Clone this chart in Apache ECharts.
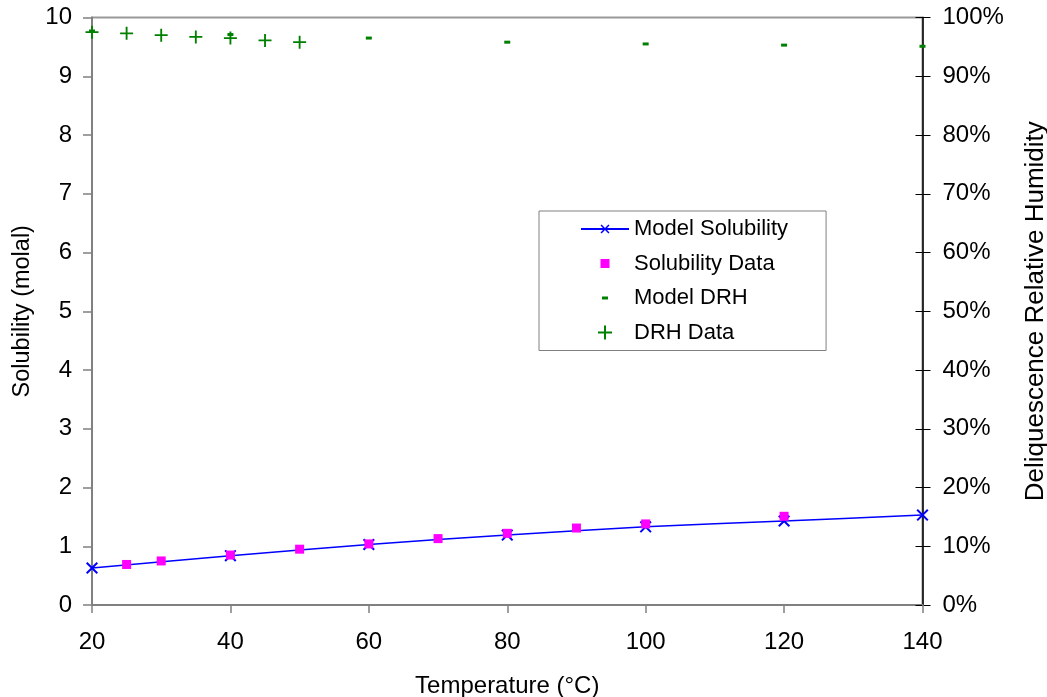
<!DOCTYPE html>
<html>
<head>
<meta charset="utf-8">
<script src="https://cdn.jsdelivr.net/npm/echarts@6/dist/echarts.min.js"></script>
<style>
html,body{margin:0;padding:0;background:#fff;}
#chart{width:1047px;height:697px;}
</style>
</head>
<body>
<div id="chart"></div>
<script>
// ---- data ----
var modelTemps = [20, 40, 60, 80, 100, 120, 140];
var modelSolubility = [0.63, 0.84, 1.03, 1.19, 1.33, 1.43, 1.53];

var dataTemps = [25, 30, 40, 50, 60, 70, 80, 90, 100, 120];
var solubilityData = [0.69, 0.75, 0.85, 0.95, 1.04, 1.13, 1.22, 1.31, 1.38, 1.51];

var modelDrhTemps = [20, 40, 60, 80, 100, 120, 140];
var modelDrh = [97.7, 97.1, 96.5, 95.8, 95.5, 95.3, 95.1];

var drhTemps = [20, 25, 30, 35, 40, 45, 50];
var drhData = [97.5, 97.3, 97.0, 96.7, 96.5, 96.1, 95.8];

var seriesNames = ['Model Solubility', 'Solubility Data', 'Model DRH', 'DRH Data'];

function pairs(xs, ys) { return xs.map(function (x, i) { return [x, ys[i]]; }); }

var FONT = '"Liberation Sans", Arial, sans-serif';
var PLUS = 'path://M6,0H8V6H14V8H8V14H6V8H0V6H6Z';
var XMARK = 'path://M5.2,0H6.8V5.2H12V6.8H6.8V12H5.2V6.8H0V5.2H5.2Z';

var chart = echarts.init(document.getElementById('chart'), null, {renderer: 'canvas'});
chart.setOption({
  animation: false,
  backgroundColor: '#ffffff',
  textStyle: {fontFamily: FONT},
  grid: {left: 92, right: 124.5, top: 17.5, bottom: 92, show: true, borderColor: '#999999', borderWidth: 2,
    backgroundColor: '#ffffff', containLabel: false, outerBoundsMode: 'none'},
  legend: {
    orient: 'vertical', left: 539, top: 211,
    padding: [7, 38, 7, 41], itemGap: 12.5, itemWidth: 48, itemHeight: 14,
    borderColor: '#808080', borderWidth: 1, backgroundColor: '#ffffff',
    textStyle: {fontFamily: FONT, fontSize: 22, lineHeight: 22, color: '#000'},
    data: [
      {name: seriesNames[0]},
      {name: seriesNames[1], icon: 'path://M0,0M48,14M19.5,2.5H28.5V11.5H19.5Z'},
      {name: seriesNames[2], icon: 'path://M0,0M48,14M21,5.5H27V8.5H21Z'},
      {name: seriesNames[3], icon: 'path://M0,0M48,14M23,0H25V6H31V8H25V14H23V8H17V6H23Z'}
    ]
  },
  xAxis: {
    type: 'value', min: 20, max: 140, interval: 20,
    name: 'Temperature (°C)', nameLocation: 'middle', nameGap: 69,
    nameTextStyle: {fontFamily: FONT, fontSize: 24, color: '#000'},
    axisLine: {show: true, onZero: false, lineStyle: {color: '#808080', width: 2}},
    axisTick: {show: true, length: 8, lineStyle: {color: '#808080', width: 1.5}},
    axisLabel: {fontFamily: FONT, fontSize: 24, color: '#000', margin: 25},
    splitLine: {show: false}
  },
  yAxis: [
    {
      type: 'value', min: 0, max: 10, interval: 1, position: 'left',
      name: 'Solubility (molal)', nameLocation: 'middle', nameGap: 54,
      nameTextStyle: {fontFamily: FONT, fontSize: 23.5, color: '#000'},
      axisLine: {show: true, onZero: false, lineStyle: {color: '#808080', width: 2}},
      axisTick: {show: true, length: 9, lineStyle: {color: '#808080', width: 1.5}},
      axisLabel: {fontFamily: FONT, fontSize: 24, color: '#000', margin: 20},
      splitLine: {show: false}
    },
    {
      type: 'value', min: 0, max: 100, interval: 10, position: 'right',
      name: 'Deliquescence Relative Humidity', nameLocation: 'middle', nameGap: 100,
      nameRotate: 90,
      nameTextStyle: {fontFamily: FONT, fontSize: 26, color: '#000'},
      axisLine: {show: true, onZero: false, lineStyle: {color: '#000000', width: 1.5}},
      axisTick: {show: true, length: 8, lineStyle: {color: '#000000', width: 1}},
      axisLabel: {fontFamily: FONT, fontSize: 24, color: '#000', margin: 20, formatter: '{value}%'},
      splitLine: {show: false}
    },
    {
      type: 'value', min: 0, max: 100, interval: 10, position: 'right',
      axisLine: {show: false},
      axisTick: {show: true, inside: true, length: 7, lineStyle: {color: '#000000', width: 1}},
      axisLabel: {show: false},
      splitLine: {show: false}
    }
  ],
  series: [
    {
      name: seriesNames[0], type: 'line', yAxisIndex: 0,
      data: pairs(modelTemps, modelSolubility),
      smooth: 0.3,
      symbol: XMARK, symbolSize: 15, symbolRotate: 45,
      itemStyle: {color: '#0000ff'},
      lineStyle: {color: '#0000ff', width: 1.5},
      z: 3
    },
    {
      name: seriesNames[1], type: 'scatter', yAxisIndex: 0,
      data: pairs(dataTemps, solubilityData),
      symbol: 'rect', symbolSize: 9,
      itemStyle: {color: '#ff00ff', opacity: 1},
      z: 4
    },
    {
      name: seriesNames[2], type: 'scatter', yAxisIndex: 1,
      data: pairs(modelDrhTemps, modelDrh),
      symbol: 'rect', symbolSize: [6, 3],
      itemStyle: {color: '#008000', opacity: 1},
      z: 4
    },
    {
      name: seriesNames[3], type: 'scatter', yAxisIndex: 1,
      data: pairs(drhTemps, drhData),
      symbol: PLUS, symbolSize: 13,
      itemStyle: {color: '#008000', opacity: 1},
      z: 4
    }
  ]
});
</script>
</body>
</html>
